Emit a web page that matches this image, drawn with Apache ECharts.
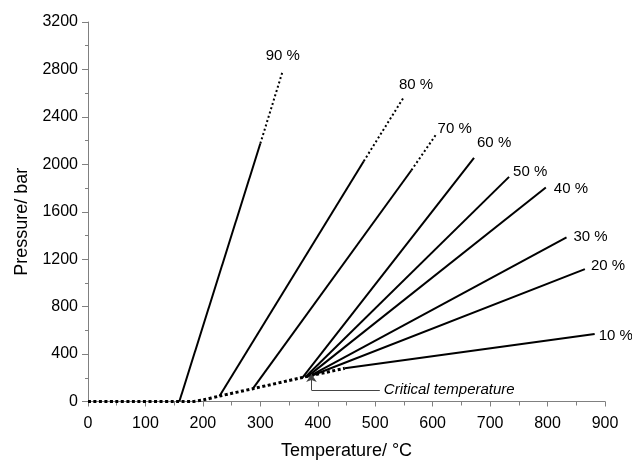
<!DOCTYPE html>
<html style="height: 100%">
<head>
  <meta charset="UTF-8">
  <title>ECharts</title>
  <script src="https://cdn.jsdelivr.net/npm/echarts@6/dist/echarts.min.js"></script>
</head>
<body style="height: 100%; margin: 0">
<div id="main" style="width: 632px; height: 463px"></div>

<script>
  // saturation / liquid-vapour curve (dotted)
  const curveT = [0, 180, 200, 229, 287, 371, 447];
  const curveP = [0, 0, 13, 46, 108, 200, 280];

  // isochores by filling degree
  const fillLabels = ['10 %', '20 %', '30 %', '40 %', '50 %', '60 %', '70 %', '80 %', '90 %'];
  const startT = [447, 388, 385, 382, 378, 373, 287, 229, 159];
  const startP = [280, 215, 212, 210, 205, 200, 108, 46, 0];
  const endT = [882, 865, 833, 797, 733, 672, 563, 480, 300];
  const endP = [569, 1116, 1383, 1805, 1894, 2054, 1950, 2026, 2175];
  // extrapolated (dotted) parts, only for the high fillings
  const extT = [null, null, null, null, null, null, 605, 550, 339];
  const extP = [null, null, null, null, null, null, 2245, 2568, 2787];

  // critical temperature pointer
  const arrowT = [508, 389, 389];
  const arrowP = [97, 97, 232];

  const font = 'Liberation Sans, Arial, sans-serif';
  const labelOffsets = [[4, 2], [6, -3], [7, -1], [8, 1], [4, -5], [3, -15], [2, -6], [-5, -12], [-17, -15]];

  let series = [];

  series.push({
    type: 'line',
    data: curveT.map((t, i) => [t, curveP[i]]),
    symbol: 'none',
    smooth: 0.3,
    lineStyle: { color: '#000', width: 3, type: [3, 2.5], cap: 'butt' },
    markLine: {
      silent: true,
      animation: false,
      symbol: ['none', 'arrow'],
      symbolSize: 8,
      lineStyle: { color: '#444', width: 1, type: 'solid' },
      label: { show: false },
      data: [
        [
          {
            coord: [arrowT[0], arrowP[0]], symbol: 'none',
            label: {
              show: true, position: 'start', distance: 4, formatter: 'Critical temperature',
              fontStyle: 'italic', fontSize: 15, color: '#000', fontFamily: font
            }
          },
          { coord: [arrowT[1], arrowP[1]], symbol: 'none' }
        ],
        [
          { coord: [arrowT[1], arrowP[1]], symbol: 'none' },
          { coord: [arrowT[2], arrowP[2]], symbol: 'arrow' }
        ]
      ]
    }
  });

  fillLabels.forEach((name, i) => {
    const hasExt = extT[i] !== null;
    const lbl = {
      show: true, position: 'right', distance: 0, offset: labelOffsets[i],
      formatter: name, color: '#000', fontSize: 15, fontFamily: font
    };
    series.push({
      type: 'line',
      symbol: 'circle',
      symbolSize: 0,
      lineStyle: { color: '#000', width: 2 },
      label: { show: false },
      data: [
        [startT[i], startP[i]],
        hasExt ? [endT[i], endP[i]] : { value: [endT[i], endP[i]], label: lbl }
      ]
    });
    if (hasExt) {
      series.push({
        type: 'line',
        symbol: 'circle',
        symbolSize: 0,
        lineStyle: { color: '#000', width: 2, type: [2, 2.5], cap: 'butt' },
        label: { show: false },
        data: [
          [endT[i], endP[i]],
          { value: [extT[i], extP[i]], label: lbl }
        ]
      });
    }
  });

  let option = {
    animation: false,
    backgroundColor: '#fff',
    grid: { left: 88, right: 27, top: 22, bottom: 61.5, containLabel: false, outerBoundsMode: 'none' },
    xAxis: {
      type: 'value',
      min: 0,
      max: 900,
      interval: 100,
      name: 'Temperature/ °C',
      nameLocation: 'middle',
      nameGap: 41,
      nameTextStyle: { fontSize: 18, color: '#000', fontFamily: font },
      axisLine: { lineStyle: { color: '#808080', width: 1 } },
      axisTick: { length: 5, lineStyle: { color: '#808080' } },
      minorTick: { show: true, splitNumber: 2, length: 4, lineStyle: { color: '#808080' } },
      axisLabel: { fontSize: 16, color: '#000', margin: 14, fontFamily: font },
      splitLine: { show: false }
    },
    yAxis: {
      type: 'value',
      min: 0,
      max: 3200,
      interval: 400,
      name: 'Pressure/ bar',
      nameLocation: 'middle',
      nameGap: 55,
      nameTextStyle: { fontSize: 18, color: '#000', fontFamily: font, padding: [0, 20, 0, 0] },
      axisLine: { show: true, lineStyle: { color: '#808080', width: 1 } },
      axisTick: { show: true, length: 6, lineStyle: { color: '#808080' } },
      minorTick: { show: true, splitNumber: 2, length: 3, lineStyle: { color: '#808080' } },
      axisLabel: {
        fontSize: 16, color: '#000', margin: 10, fontFamily: font,
        formatter: v => String(v)
      },
      splitLine: { show: false }
    },
    series: series
  };

  let chart = echarts.init(document.getElementById('main'));
  chart.setOption(option);
</script>
</body>
</html>
